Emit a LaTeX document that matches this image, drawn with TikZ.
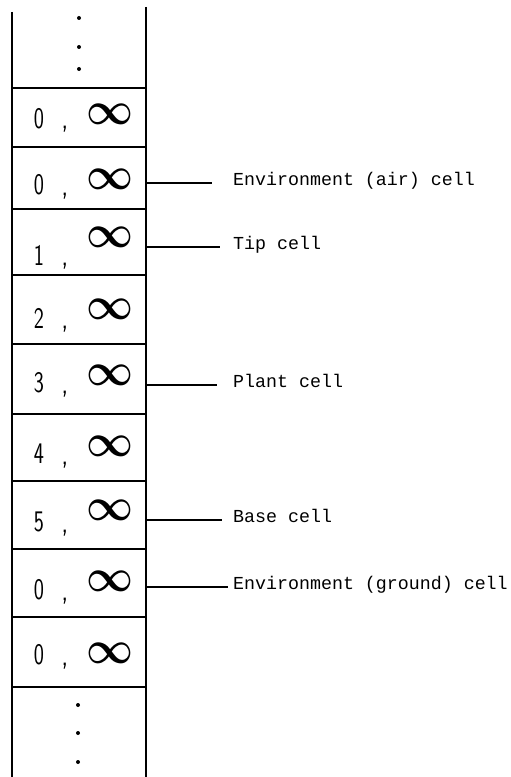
\documentclass[tikz,border=0pt]{standalone}
\usepackage{fontspec}
\usepackage{graphicx}
\newfontfamily\labelfont{Liberation Mono}
\tikzset{
  cellbox/.style={draw, line width=1.5bp, minimum width=134bp, inner sep=0pt, outer sep=0pt},
  digit/.style={font=\fontsize{30}{30}\sffamily, inner sep=0pt},
  inf/.style={inner sep=0pt},
  lab/.style={font=\labelfont\fontsize{18.3bp}{20bp}\selectfont, anchor=mid west, inner sep=0pt},
  lead/.style={line width=1.6bp},
  wall/.style={line width=1.6bp}
}
\begin{document}
\begin{tikzpicture}[x=1bp, y={(0bp,-1bp)}]
\useasboundingbox (0,0) rectangle (511,777);
% outer walls
\draw[wall] (12,12) -- (12,777);
\draw[wall] (146,7) -- (146,777);
% cells
\foreach \i/\top/\bot/\d/\iy/\dy in {0/88/147/0/114.5/118.5, 1/147/209/0/179/185, 2/209/275/1/237/255, 3/275/344/2/309/318, 4/344/414/3/375/383, 5/414/481/4/446/454, 6/481/549/5/510/522, 7/549/617/0/581/590, 8/617/687/0/653/655}{
  \node[cellbox, minimum height={(\bot-\top)*1bp}] (c\i) at (79,{(\top+\bot)/2}) {};
  \node[digit] (d\i) at (39,\dy) {\scalebox{0.72}[1]{\d}};
  \node[digit, anchor=base] (k\i) at (65,\dy+10) {\scalebox{0.9}[1]{,}};
  \node[inf] (n\i) at (110,\iy) {\scalebox{4.1}[4.6]{\boldmath$\infty$}};
}
% continuation dots
\fill (79,18) circle (2bp);
\fill (79,47) circle (2bp);
\fill (79,69) circle (2bp);
\fill (78,705) circle (2bp);
\fill (78,733) circle (2bp);
\fill (78,762) circle (2bp);
% labels
\node[lab] (la) at (233,183) {Environment (air) cell};
\node[lab] (lt) at (233,247) {Tip cell};
\node[lab] (lp) at (233,385) {Plant cell};
\node[lab] (lb) at (233,520) {Base cell};
\node[lab] (lg) at (233,587) {Environment (ground) cell};
\draw[lead] (c1.east |- la.mid west) -- ([xshift=-21bp]la.mid west);
\draw[lead] (c2.east |- lt.mid west) -- ([xshift=-13bp]lt.mid west);
\draw[lead] (c4.east |- lp.mid west) -- ([xshift=-16bp]lp.mid west);
\draw[lead] (c6.east |- lb.mid west) -- ([xshift=-11bp]lb.mid west);
\draw[lead] (c7.east |- lg.mid west) -- ([xshift=-5bp]lg.mid west);
\end{tikzpicture}
\end{document}
